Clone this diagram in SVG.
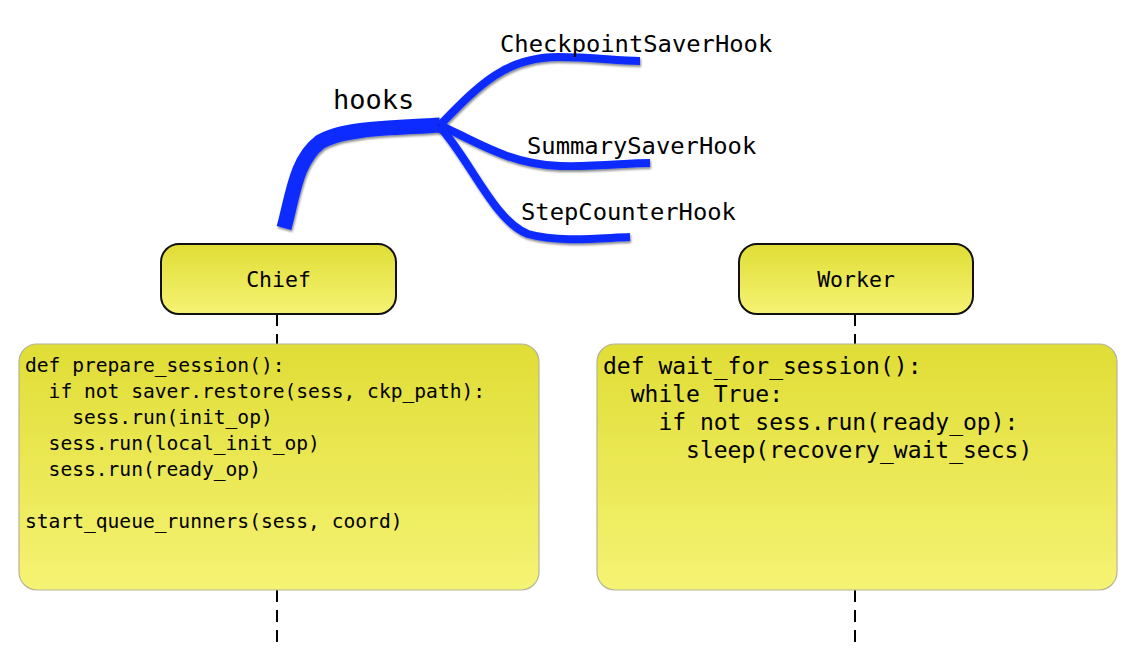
<svg xmlns="http://www.w3.org/2000/svg" width="1138" height="658" viewBox="0 0 1138 658">
<defs>
<linearGradient id="yg" x1="0" y1="0" x2="0" y2="1">
<stop offset="0" stop-color="#e0dd36"/>
<stop offset="1" stop-color="#f5f373"/>
</linearGradient>
<filter id="sh" x="-10%" y="-10%" width="130%" height="140%">
<feDropShadow dx="1" dy="2" stdDeviation="1.2" flood-color="#000" flood-opacity="0.45"/>
</filter>
<style>
.mono{font-family:"DejaVu Sans Mono","Liberation Mono",monospace;fill:#000}
.head{fill:url(#yg);stroke:#111;stroke-width:2}
.code{fill:url(#yg);stroke:#b4b49a;stroke-width:1.2}
.dash{stroke:#000;stroke-width:2;stroke-dasharray:12,8;fill:none}
.blue{stroke:#0a2cff;fill:none;stroke-linecap:butt;filter:url(#sh)}
</style>
</defs>
<rect width="1138" height="658" fill="#fff"/>
<g id="connectors">
<line class="dash" x1="277" y1="314" x2="277" y2="344"/>
<line class="dash" x1="277" y1="590" x2="277" y2="650"/>
<line class="dash" x1="855" y1="314" x2="855" y2="344"/>
<line class="dash" x1="855" y1="590" x2="855" y2="650"/>
</g>
<g id="hooks">
<path class="blue" stroke-width="15" d="M284,228 C293,195 296,160 320,142 C345,127 400,128 440,125"/>
<path class="blue" stroke-width="8" d="M440,125 C478,86 505,57 558,57 C595,57 615,61 640,61"/>
<path class="blue" stroke-width="8" d="M440,125 C478,143 510,164 560,166 C600,167 625,163 650,163"/>
<path class="blue" stroke-width="8" d="M440,127 C470,160 495,222 528,234 C560,243 600,238 630,237"/>
<text class="mono" x="333" y="109" font-size="27">hooks</text>
<text class="mono" x="500" y="52" font-size="23.8">CheckpointSaverHook</text>
<text class="mono" x="527" y="154" font-size="23.8">SummarySaverHook</text>
<text class="mono" x="521" y="220" font-size="23.8">StepCounterHook</text>
</g>
<g id="chief">
<rect class="head" x="161" y="244" width="235" height="70" rx="18"/>
<text class="mono" x="278.5" y="287" font-size="21.5" text-anchor="middle">Chief</text>
</g>
<g id="worker">
<rect class="head" x="739" y="244" width="234" height="70" rx="18"/>
<text class="mono" x="856" y="287" font-size="21.5" text-anchor="middle">Worker</text>
</g>
<g id="chief-code">
<rect class="code" x="19" y="344" width="520" height="246" rx="18"/>
<text class="mono" font-size="19.6" xml:space="preserve"><tspan x="25" y="372">def prepare_session():</tspan><tspan x="25" y="398">  if not saver.restore(sess, ckp_path):</tspan><tspan x="25" y="424">    sess.run(init_op)</tspan><tspan x="25" y="450">  sess.run(local_init_op)</tspan><tspan x="25" y="476">  sess.run(ready_op)</tspan><tspan x="25" y="528">start_queue_runners(sess, coord)</tspan></text>
</g>
<g id="worker-code">
<rect class="code" x="597" y="344" width="520" height="246" rx="18"/>
<text class="mono" font-size="23" xml:space="preserve"><tspan x="603" y="374">def wait_for_session():</tspan><tspan x="603" y="402">  while True:</tspan><tspan x="603" y="430">    if not sess.run(ready_op):</tspan><tspan x="603" y="458">      sleep(recovery_wait_secs)</tspan></text>
</g>
</svg>
